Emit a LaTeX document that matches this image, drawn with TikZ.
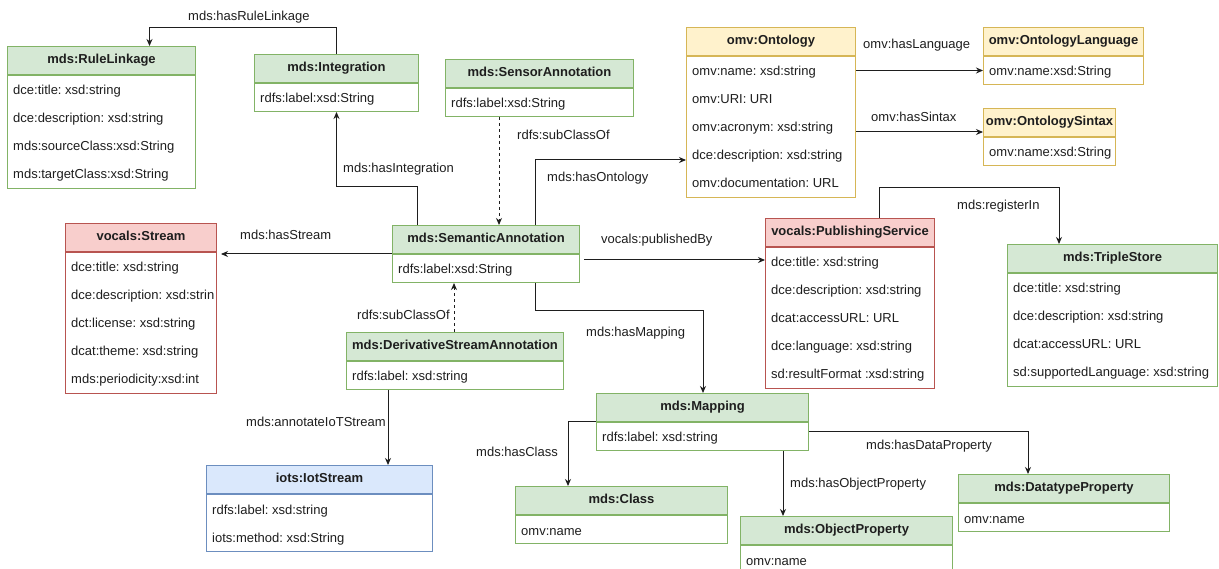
\documentclass[tikz,border=0pt]{standalone}
\usepackage{fontspec}
\setmainfont{Liberation Sans}
\usetikzlibrary{arrows.meta,calc}
\frenchspacing

\definecolor{greenfill}{HTML}{D5E8D4}\definecolor{greenline}{HTML}{82B366}
\definecolor{yellowfill}{HTML}{FFF2CC}\definecolor{yellowline}{HTML}{D6B656}
\definecolor{redfill}{HTML}{F8CECC}\definecolor{redline}{HTML}{B85450}
\definecolor{bluefill}{HTML}{DAE8FC}\definecolor{blueline}{HTML}{6C8EBF}
\definecolor{ink}{HTML}{1E1E1E}

\tikzset{
  hdr/.style={draw=#1line, fill=#1fill, line width=1pt, minimum height=28pt,
    inner sep=0pt, text height=9.5pt, text depth=2.8pt,
    font=\bfseries\fontsize{13}{15}\selectfont, text=ink},
  bdy/.style={draw=#1line, fill=white, line width=1pt, inner sep=0pt},
  rowtxt/.style={anchor=base west, inner sep=0pt, font=\fontsize{13}{15}\selectfont, text=ink},
  lbl/.style={anchor=west, inner sep=0pt, font=\fontsize{13}{15}\selectfont, text=ink},
  conn/.style={draw=ink, line width=1pt, -{Stealth[length=7pt,width=6pt]}},
  dconn/.style={conn, dash pattern=on 3pt off 3pt},
}

% #1 id, #2 colour scheme, #3 x, #4 y (top), #5 width, #6 body height, #7 title, #8 attribute rows
\newcommand{\umlclass}[8]{%
  \node[hdr=#2, minimum width=#5pt, anchor=north west] (#1h) at (#3,#4) {#7};
  \node[bdy=#2, minimum width=#5pt, minimum height=#6pt, anchor=north west] (#1b) at (#1h.south west) {};
  \begin{scope}
    \clip (#1b.south west) rectangle ([xshift=-4pt]#1b.north east);
    \foreach \r [count=\i from 0] in {#8} {
      \node[rowtxt] (#1r\i) at ($(#1b.north west)+(6,20+28*\i)$) {\r};
    }
  \end{scope}
}

\begin{document}
\begin{tikzpicture}[x=1pt, y=-1pt]
\useasboundingbox (0,0) rectangle (1219,569);

% classes
\umlclass{rl}{green}{7}{46}{188}{113}{mds:RuleLinkage}
  {dce:title: xsd:string, dce:description: xsd:string, mds:sourceClass:xsd:String, mds:targetClass:xsd:String}
\umlclass{integ}{green}{254}{54}{164}{28}{mds:Integration}{rdfs:label:xsd:String}
\umlclass{sens}{green}{445}{59}{188}{28}{mds:SensorAnnotation}{rdfs:label:xsd:String}
\umlclass{ont}{yellow}{686}{27}{169}{141}{omv:Ontology}
  {omv:name: xsd:string, omv:URI: URI, omv:acronym: xsd:string, dce:description: xsd:string, omv:documentation: URL}
\umlclass{ol}{yellow}{983}{27}{160}{28}{omv:OntologyLanguage}{omv:name:xsd:String}
\umlclass{os}{yellow}{983}{108}{132}{28}{omv:OntologySintax}{omv:name:xsd:String}
\umlclass{st}{red}{65}{223}{151}{141}{vocals:Stream}
  {dce:title: xsd:string, dce:description: xsd:string, dct:license: xsd:string, dcat:theme: xsd:string, mds:periodicity:xsd:int}
\umlclass{sa}{green}{392}{225}{187}{28}{mds:SemanticAnnotation}{rdfs:label:xsd:String}
\umlclass{ps}{red}{765}{218}{169}{141}{vocals:PublishingService}
  {dce:title: xsd:string, dce:description: xsd:string, dcat:accessURL: URL, dce:language: xsd:string, sd:resultFormat :xsd:string}
\umlclass{ts}{green}{1007}{244}{210}{113}{mds:TripleStore}
  {dce:title: xsd:string, dce:description: xsd:string, dcat:accessURL: URL, sd:supportedLanguage: xsd:string}
\umlclass{dsa}{green}{346}{332}{217}{28}{mds:DerivativeStreamAnnotation}{rdfs:label: xsd:string}
\umlclass{iot}{blue}{206}{465}{226}{57}{iots:IotStream}{rdfs:label: xsd:string, iots:method: xsd:String}
\umlclass{map}{green}{596}{393}{212}{28}{mds:Mapping}{rdfs:label: xsd:string}
\umlclass{cls}{green}{515}{486}{212}{28}{mds:Class}{omv:name}
\umlclass{op}{green}{740}{516}{212}{28}{mds:ObjectProperty}{omv:name}
\umlclass{dp}{green}{958}{474}{211}{28}{mds:DatatypeProperty}{omv:name}

% relations
\draw[conn] (integh.north) -- ++(0,-26) -| ([xshift=48pt]rlh.north);
\draw[conn] ([xshift=25pt]sah.north west) -- ++(0,-38) -| (integb.south);
\draw[dconn] ([xshift=54pt]sensb.south west) -- ([xshift=107pt]sah.north west);
\draw[conn] ([xshift=143pt]sah.north west) |- ([yshift=-104pt]ontb.north west);
\draw[conn] (olb.west -| ontb.east) -- (olb.west);
\coordinate (sx) at ([yshift=5pt]osh.south west);
\draw[conn] (sx -| ontb.east) -- (sx);
\draw[conn] ([xshift=114pt]psh.north west) -- ++(0,-30) -| ([xshift=52pt]tsh.north west);
\coordinate (pb) at ([yshift=-13pt]psb.north west);
\draw[conn] ([xshift=4pt]pb -| sab.east) -- (pb);
\draw[conn] (sah.south west) -- ([xshift=4pt]sah.south west -| sth.east);
\draw[dconn] ([xshift=108pt]dsah.north west) -- ([xshift=62pt]sab.south west);
\draw[conn] ([xshift=42pt]dsab.south west) -- ([xshift=182pt]ioth.north west);
\draw[conn] ([xshift=143pt]sab.south west) -- ++(0,28) -| ([xshift=107pt]maph.north west);
\draw[conn] (maph.south west) -| ([xshift=53pt]clsh.north west);
\draw[conn] ([xshift=187pt]mapb.south west) -- ([xshift=43pt]oph.north west);
\draw[conn] ([yshift=-9pt]mapb.north east) -| ([xshift=70pt]dph.north west);

% relation labels
\node[lbl] (l1) at (188,17) {mds:hasRuleLinkage};
\node[lbl] (l2) at (343,169) {mds:hasIntegration};
\node[lbl] (l3) at (517,135) {rdfs:subClassOf};
\node[lbl] (l4) at (547,178) {mds:hasOntology};
\node[lbl] (l5) at (863,45) {omv:hasLanguage};
\node[lbl] (l6) at (871,117) {omv:hasSintax};
\node[lbl] (l7) at (240,235) {mds:hasStream};
\node[lbl] (l8) at (601,240) {vocals:publishedBy};
\node[lbl] (l9) at (957,206) {mds:registerIn};
\node[lbl] (l10) at (357,315) {rdfs:subClassOf};
\node[lbl] (l11) at (586,333) {mds:hasMapping};
\node[lbl] (l12) at (246,422) {mds:annotateIoTStream};
\node[lbl] (l13) at (476,452) {mds:hasClass};
\node[lbl] (l14) at (790,484) {mds:hasObjectProperty};
\node[lbl] (l15) at (866,446) {mds:hasDataProperty};
\end{tikzpicture}
\end{document}
